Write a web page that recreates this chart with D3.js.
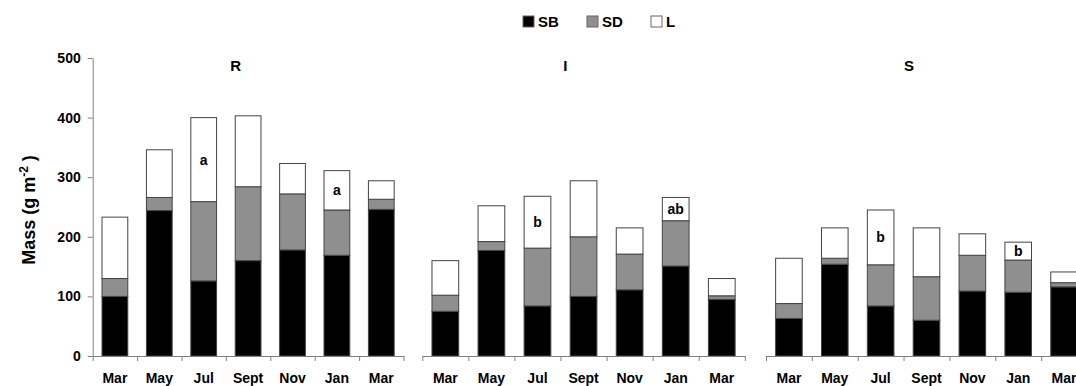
<!DOCTYPE html>
<html>
<head>
<meta charset="utf-8">
<script src="https://cdn.jsdelivr.net/npm/d3@7"></script>
<style>
  body { margin: 0; background: #fff; }
  text { font-family: "Liberation Sans", Arial, sans-serif; font-weight: bold; fill: #000; }
</style>
</head>
<body>
<script>
// data (g m-2), stacked SB / SD / L
var months = ["Mar", "May", "Jul", "Sept", "Nov", "Jan", "Mar"];
var sites = ["R", "I", "S"];
var series = ["SB", "SD", "L"];
var yTicks = [0, 100, 200, 300, 400, 500];

var sbR = [100, 244, 126, 160, 178, 169, 246];
var sdR = [30, 22, 133, 124, 94, 76, 17];
var lR  = [103, 80, 141, 119, 51, 66, 31];
var letR = ["", "", "a", "", "", "a", ""];

var sbI = [75, 177, 84, 100, 111, 151, 95];
var sdI = [27, 15, 97, 100, 60, 76, 6];
var lI  = [58, 60, 87, 94, 44, 39, 29];
var letI = ["", "", "b", "", "", "ab", ""];

var sbS = [63, 154, 84, 60, 109, 107, 116];
var sdS = [25, 10, 69, 73, 60, 54, 7];
var lS  = [76, 51, 92, 82, 36, 30, 18];
var letS = ["", "", "b", "", "", "b", ""];

var panelData = [
  {name: sites[0], sb: sbR, sd: sdR, l: lR, letters: letR},
  {name: sites[1], sb: sbI, sd: sdI, l: lI, letters: letI},
  {name: sites[2], sb: sbS, sd: sdS, l: lS, letters: letS}
];

// layout
var width = 1076, height = 386;
var panelX = [[92.7, 403.5], [422.3, 744.8], [766, 1087]];
var colors = {SB: "#000000", SD: "#8f8f8f", L: "#ffffff"};

var svg = d3.select("body").append("svg").attr("width", width).attr("height", height);

var y = d3.scaleLinear().domain([0, 500]).range([356, 58]);

// y axis (only first panel)
var yAxis = svg.append("g").attr("transform", "translate(" + panelX[0][0] + ",0)")
  .call(d3.axisLeft(y).tickValues(yTicks).tickSizeInner(5).tickSizeOuter(0).tickPadding(7));
yAxis.select(".domain").attr("stroke", "#808080");
yAxis.selectAll(".tick line").attr("stroke", "#808080");
yAxis.selectAll(".tick text").style("font-size", "14px").style("font-family", "Liberation Sans, Arial, sans-serif").style("font-weight", "bold").attr("fill", "#000");

var yLab = svg.append("text")
  .attr("transform", "translate(35,210) rotate(-90)")
  .attr("text-anchor", "middle")
  .style("font-size", "18px");
yLab.append("tspan").text("Mass (g m");
yLab.append("tspan").text("-2").attr("dy", -7).style("font-size", "12px");
yLab.append("tspan").text(" )").attr("dy", 7);

panelData.forEach(function(p, pi) {
  var x0 = panelX[pi][0], x1 = panelX[pi][1];
  var x = d3.scaleBand().domain(d3.range(months.length)).range([x0, x1])
    .paddingInner(0.42).paddingOuter(0.21);
  var edge = d3.scaleLinear().domain([0, months.length]).range([x0, x1]);

  var rows = months.map(function(m, i) {
    return {i: i, SB: p.sb[i], SD: p.sd[i], L: p.l[i], letter: p.letters[i]};
  });
  var stacked = d3.stack().keys(series)(rows);

  var g = svg.append("g");

  g.selectAll("g.layer").data(stacked).enter().append("g")
    .attr("class", "layer")
    .attr("fill", function(d) { return colors[d.key]; })
    .selectAll("rect").data(function(d) { return d; }).enter().append("rect")
    .attr("x", function(d) { return x(d.data.i); })
    .attr("width", x.bandwidth())
    .attr("y", function(d) { return y(d[1]); })
    .attr("height", function(d) { return y(d[0]) - y(d[1]); })
    .attr("stroke", "#444")
    .attr("stroke-width", 1);

  // significance letters, centred in the L segment
  var top = stacked[2];
  g.selectAll("text.letter").data(top.filter(function(d) { return d.data.letter; }))
    .enter().append("text")
    .attr("class", "letter")
    .attr("x", function(d) { return x(d.data.i) + x.bandwidth() / 2; })
    .attr("y", function(d) { return y((d[0] + d[1]) / 2); })
    .attr("dy", "0.35em")
    .attr("text-anchor", "middle")
    .style("font-size", "14px")
    .text(function(d) { return d.data.letter; });

  // x axis with boundary ticks
  var ax = g.append("g").attr("transform", "translate(0,356)")
    .call(d3.axisBottom(edge).tickValues(d3.range(months.length + 1)).tickFormat("").tickSizeInner(5).tickSizeOuter(0));
  ax.select(".domain").attr("stroke", "#808080");
  ax.selectAll(".tick line").attr("stroke", "#808080");

  var lab = g.append("g").attr("transform", "translate(0,356)")
    .call(d3.axisBottom(x).tickFormat(function(i) { return months[i]; }).tickSize(0).tickPadding(17));
  lab.select(".domain").remove();
  lab.selectAll(".tick text").style("font-size", "14px").style("font-family", "Liberation Sans, Arial, sans-serif").style("font-weight", "bold").attr("fill", "#000");

  g.append("text")
    .attr("x", x0 + 143)
    .attr("y", 71)
    .attr("text-anchor", "middle")
    .style("font-size", "15px")
    .text(p.name);
});

// legend
var legX = [523, 587, 651];
var leg = svg.append("g").selectAll("g").data(series).enter().append("g")
  .attr("transform", function(d, i) { return "translate(" + legX[i] + ",16)"; });
leg.append("rect").attr("width", 11).attr("height", 11)
  .attr("fill", function(d) { return colors[d]; })
  .attr("stroke", "#666");
leg.append("text").attr("x", 15).attr("y", 11).style("font-size", "15px").text(function(d) { return d; });
</script>
</body>
</html>
